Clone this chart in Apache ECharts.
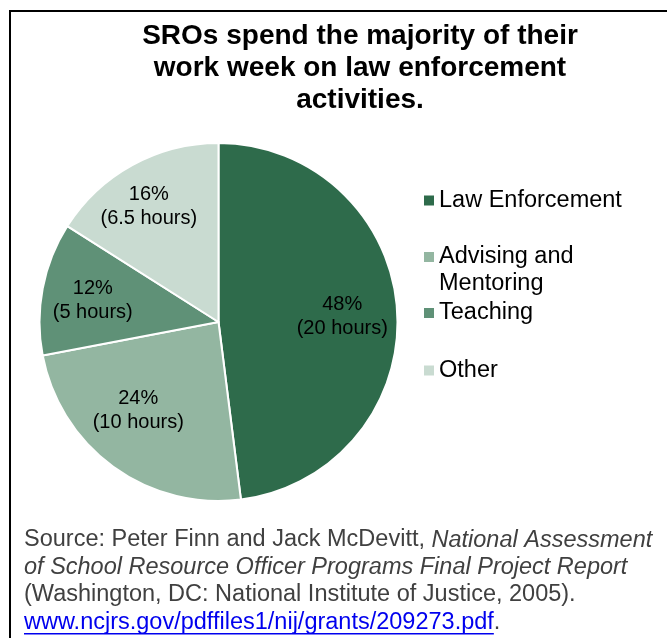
<!DOCTYPE html>
<html>
<head>
<meta charset="utf-8">
<script src="https://cdn.jsdelivr.net/npm/echarts@6/dist/echarts.min.js"></script>
<style>
  html, body { margin: 0; padding: 0; background: #fff; }
  #chart { width: 667px; height: 638px; }
</style>
</head>
<body>
<div id="chart"></div>
<script>
// ---- data ----
var categories = ['Law Enforcement', 'Advising and Mentoring', 'Teaching', 'Other'];
var legendLabels = ['Law Enforcement', 'Advising and\nMentoring', 'Teaching', 'Other'];
var percents = [48, 24, 12, 16];
var hours = ['20', '10', '5', '6.5'];
var colors = ['#2e6b4b', '#93b6a1', '#5f9177', '#c9dbd1'];
var titleText = 'SROs spend the majority of their\nwork week on law enforcement\nactivities.';
var sourceParts = {
  plain1: 'Source: Peter Finn and Jack McDevitt, ',
  italic1: 'National Assessment',
  italic2: 'of School Resource Officer Programs Final Project Report',
  plain2: '(Washington, DC: National Institute of Justice, 2005).',
  url: 'www.ncjrs.gov/pdffiles1/nij/grants/209273.pdf',
  tail: '.'
};

// ---- layout / build ----
var FONT = '"Liberation Sans", Arial, Helvetica, sans-serif';
var srcSize = 23.5, srcLH = 27.5, srcTop = 528;
var ctx = document.createElement('canvas').getContext('2d');
ctx.font = srcSize + 'px ' + FONT;
var urlWidth = ctx.measureText(sourceParts.url).width;

var labelOffsets = [[-4, 3], [-5, -15], [0, 2], [-8, -3]];

var pieData = categories.map(function (c, i) {
  return { name: c, value: percents[i], itemStyle: { color: colors[i] } };
});
var labelData = categories.map(function (c, i) {
  return { name: c, value: percents[i], label: { offset: labelOffsets[i] } };
});

var legendCenters = [200.5, 257, 313, 370.5];
var legends = categories.map(function (c, i) {
  var multi = legendLabels[i].indexOf('\n') >= 0;
  return {
    orient: 'vertical',
    left: 424,
    top: legendCenters[i] - (multi ? 40.5 : 13.5),
    padding: 0,
    itemWidth: 10,
    itemHeight: 10,
    icon: 'rect',
    selectedMode: false,
    itemStyle: { borderWidth: 0 },
    data: [{ name: c, itemStyle: { color: colors[i], borderWidth: 0 } }],
    // multi-line entry: a leading blank line keeps the first text line level with the swatch
    formatter: function () { return multi ? '\n' + legendLabels[i] : legendLabels[i]; },
    textStyle: { color: '#000', fontSize: 23.5, lineHeight: 27, fontFamily: FONT }
  };
});

var chart = echarts.init(document.getElementById('chart'), null, { renderer: 'canvas' });
chart.setOption({
  backgroundColor: '#fff',
  animation: false,
  title: {
    text: titleText,
    left: 360,
    top: 20,
    padding: 0,
    textAlign: 'center',
    textStyle: { fontSize: 28, fontWeight: 'bold', lineHeight: 32, color: '#000', fontFamily: FONT }
  },
  legend: legends,
  graphic: [
    {
      type: 'rect', silent: true, z: -1,
      shape: { x: 10, y: 11, width: 800, height: 800 },
      style: { fill: 'none', stroke: '#000', lineWidth: 2 }
    },
    {
      type: 'text', left: 24, top: srcTop, silent: true,
      style: {
        text: '{n|' + sourceParts.plain1 + '}{i|' + sourceParts.italic1 + '}\n' +
              '{i|' + sourceParts.italic2 + '}\n' +
              '{n|' + sourceParts.plain2 + '}\n' +
              '{u|' + sourceParts.url + '}{n|' + sourceParts.tail + '}',
        rich: {
          n: { fontSize: srcSize, lineHeight: srcLH, fill: '#404040', fontFamily: FONT },
          i: { fontSize: srcSize, lineHeight: srcLH, fill: '#404040', fontStyle: 'italic', fontFamily: FONT },
          u: { fontSize: srcSize, lineHeight: srcLH, fill: '#0000ee', fontFamily: FONT }
        }
      }
    },
    {
      type: 'rect', silent: true,
      shape: { x: 24, y: srcTop + srcLH * 3 + 22.5, width: urlWidth, height: 1.5 },
      style: { fill: '#0000ee' }
    }
  ],
  series: [
    {
      type: 'pie',
      center: [218.5, 322],
      radius: [0, 179],
      startAngle: 90,
      clockwise: true,
      silent: true,
      label: { show: false },
      labelLine: { show: false },
      itemStyle: { borderColor: '#fff', borderWidth: 2 },
      data: pieData
    },
    {
      type: 'pie',
      center: [218.5, 322],
      radius: [71, 179],
      startAngle: 90,
      clockwise: true,
      silent: true,
      itemStyle: { color: 'rgba(0,0,0,0)' },
      label: {
        show: true,
        position: 'inside',
        formatter: function (p) {
          return percents[p.dataIndex] + '%\n(' + hours[p.dataIndex] + ' hours)';
        },
        color: '#000',
        fontSize: 20,
        lineHeight: 24,
        fontFamily: FONT
      },
      labelLine: { show: false },
      data: labelData
    }
  ]
});
</script>
</body>
</html>
